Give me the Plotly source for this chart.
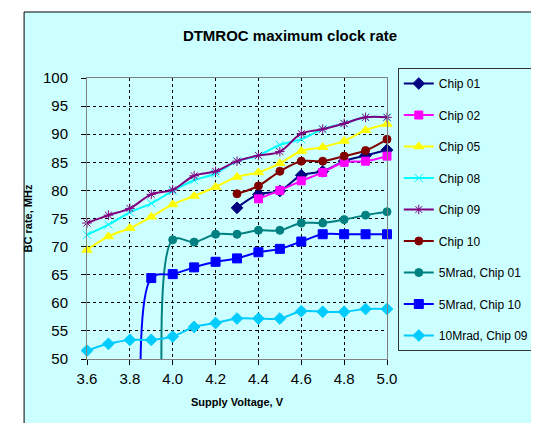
import plotly.graph_objects as go

volts = [3.6, 3.7, 3.8, 3.9, 4.0, 4.1, 4.2, 4.3, 4.4, 4.5, 4.6, 4.7, 4.8, 4.9, 5.0]

chip01 = [None, None, None, None, None, None, None, 76.9, 79.3, 79.9, 82.7, 83.4, 85.2, 86.2, 87.2]
chip02 = [None, None, None, None, None, None, None, None, 78.5, 80.0, 81.7, 83.2, 85.0, 85.2, 86.1]
chip05 = [69.4, 71.8, 73.3, 75.3, 77.5, 79.0, 80.6, 82.4, 83.2, 84.8, 87.0, 87.7, 88.8, 90.7, 91.8]
chip08 = [72.1, 73.9, 76.1, 77.7, 79.9, 81.8, 83.0, 85.2, 86.2, 88.1, 89.1, 90.9, 91.9, 93.0, 93.0]
chip09 = [74.2, 75.6, 76.8, 79.3, 80.1, 82.6, 83.4, 85.2, 86.2, 86.9, 90.1, 90.9, 91.9, 93.0, 93.0]
chip10 = [None, None, None, None, None, None, None, 79.4, 80.8, 83.4, 85.2, 85.2, 86.1, 87.1, 89.1]
mrad5_chip01 = [0, 0, 0, 0, 71.2, 70.8, 72.2, 72.2, 72.9, 72.9, 74.2, 74.2, 74.8, 75.6, 76.2]
mrad5_chip10 = [0, 0, 0, 64.4, 65.1, 66.3, 67.3, 67.9, 69.0, 69.6, 70.9, 72.2, 72.2, 72.2, 72.2]
mrad10_chip09 = [51.5, 52.7, 53.4, 53.4, 54.0, 55.7, 56.4, 57.2, 57.2, 57.2, 58.5, 58.4, 58.4, 58.9, 58.9]

series_names = ["Chip 01", "Chip 02", "Chip 05", "Chip 08", "Chip 09", "Chip 10",
                "5Mrad, Chip 01", "5Mrad, Chip 10", "10Mrad, Chip 09"]
series_values = [chip01, chip02, chip05, chip08, chip09, chip10,
                 mrad5_chip01, mrad5_chip10, mrad10_chip09]

y_ticks = [50, 55, 60, 65, 70, 75, 80, 85, 90, 95, 100]
x_ticks = [3.6, 3.8, 4.0, 4.2, 4.4, 4.6, 4.8, 5.0]
x_tick_labels = ["3.6", "3.8", "4.0", "4.2", "4.4", "4.6", "4.8", "5.0"]

styles = [
    dict(color="#000080", symbol="diamond", size=9),
    dict(color="#FF00FF", symbol="square", size=8),
    dict(color="#FFFF00", symbol="triangle-up", size=9),
    dict(color="#00FFFF", symbol="x-thin", size=8),
    dict(color="#800080", symbol="asterisk-open", size=8),
    dict(color="#800000", symbol="circle", size=8),
    dict(color="#008080", symbol="circle", size=8),
    dict(color="#0000FF", symbol="square", size=9),
    dict(color="#00CCFF", symbol="diamond", size=9),
]

FONT = "Liberation Sans, Arial, sans-serif"

fig = go.Figure()
for name, vals, st in zip(series_names, series_values, styles):
    fig.add_trace(go.Scatter(
        x=volts, y=vals, name=name, mode="lines+markers",
        legendgroup=name,
        line=dict(color=st["color"], width=2, shape="spline", smoothing=1),
        marker=dict(symbol=st["symbol"], size=st["size"], color=st["color"],
                    line=dict(color=st["color"], width=1)),
        cliponaxis=False, connectgaps=False,
    ))

# plot area in pixels: x 79..398.5, y 70..351
L, R, T, B = 79, 398.5, 70, 351
W, H = 539, 423
pw, ph = R - L, B - T

fig.add_shape(type="rect", xref="paper", yref="paper",
              x0=(12 - L) / pw, x1=(600 - L) / pw,
              y0=(B - 480) / ph, y1=(B - 4) / ph,
              fillcolor="#CCFFFF", line=dict(color="black", width=1), layer="below")

fig.update_layout(
    width=W, height=H,
    margin=dict(l=L, r=W - R, t=T, b=H - B, pad=0),
    paper_bgcolor="white", plot_bgcolor="white",
    font=dict(family=FONT, color="black"),
    title=dict(text="<b>DTMROC maximum clock rate</b>", x=282 / W, xref="container",
               xanchor="center", y=1 - 28 / H, yanchor="middle",
               font=dict(size=15, family=FONT, color="black")),
    showlegend=True,
    legend=dict(x=(410 - L) / pw, y=(B - 60) / ph, xanchor="left", yanchor="top",
                bgcolor="rgba(0,0,0,0)", bordercolor="#333333", borderwidth=1,
                font=dict(size=12, family=FONT, color="black"),
                tracegroupgap=12.5, itemwidth=30, maxheight=340),
    xaxis=dict(range=[3.6, 5.0], tickvals=x_ticks, ticktext=x_tick_labels,
               showgrid=True, gridcolor="black", griddash="3px,3px", gridwidth=1,
               showline=True, linecolor="#808080", linewidth=1, mirror=True,
               ticks="outside", ticklen=5, tickcolor="black",
               tickfont=dict(size=15, family=FONT), ticklabelstandoff=1,
               zeroline=False,
               title=dict(text="<b>Supply Voltage, V</b>", font=dict(size=11, family=FONT), standoff=12)),
    yaxis=dict(range=[50, 100], tickvals=y_ticks,
               showgrid=True, gridcolor="black", griddash="3px,3px", gridwidth=1,
               showline=True, linecolor="#808080", linewidth=1, mirror=True,
               ticks="outside", ticklen=5, tickcolor="black",
               tickfont=dict(size=15, family=FONT), ticklabelstandoff=10,
               zeroline=False,
               title=dict(text="<b>BC rate, MHz</b>", font=dict(size=11, family=FONT), standoff=8)),
)

fig.write_html("out.html")
